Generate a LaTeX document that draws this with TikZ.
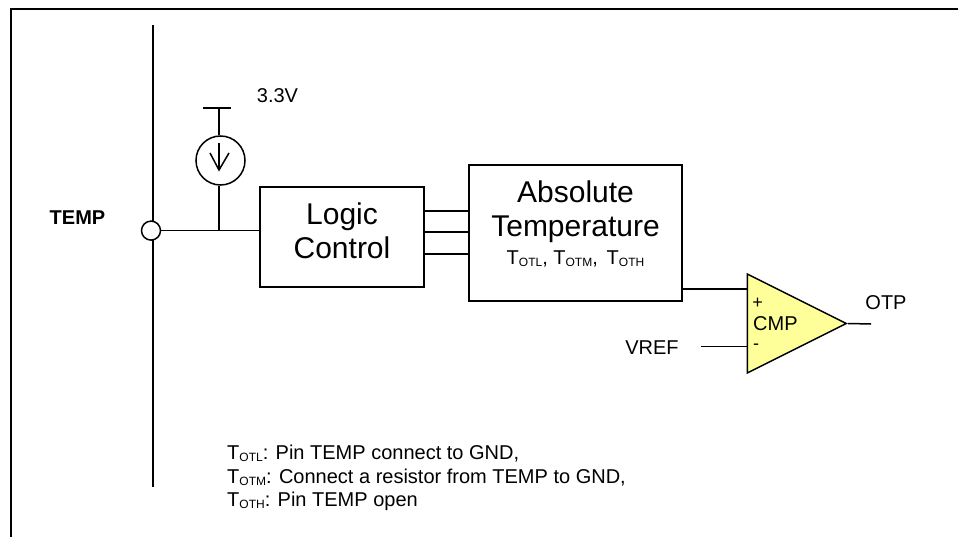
\documentclass[tikz,border=0pt]{standalone}
\usepackage{fontspec}
\setmainfont{Liberation Sans}
\usetikzlibrary{shapes.geometric}
\definecolor{cmpyellow}{HTML}{FFFF99}
\newcommand{\Tsub}[1]{T{\fontsize{12}{12}\selectfont\raisebox{-2pt}{#1}}}
\tikzset{
  wire/.style={line width=1.5pt},
  blockbox/.style={draw, line width=1.5pt, inner sep=0pt},
  bigtxt/.style={font=\fontsize{30}{34}\selectfont, align=center, inner sep=0pt},
  lbl/.style={font=\fontsize{20}{23.5}\selectfont, inner sep=0pt}
}
\begin{document}
\begin{tikzpicture}[x=1pt, y=-1pt]
\useasboundingbox (0,0) rectangle (958,537);
\coordinate (framebl) at (11,537);
\coordinate (frametl) at (11,9);
\coordinate (frametr) at (958,9);
\draw[wire] (framebl) -- (frametl) -- (frametr);
% bus and pin
\coordinate (bustop) at (153,25);
\coordinate (busbot) at (153,487);
\draw[wire] (bustop) -- (busbot);
\node[draw, circle, line width=1.5pt, fill=white, minimum size=19pt, inner sep=0pt] (pin) at (151,230.6) {};
\node[lbl, font=\fontsize{20}{23}\selectfont\bfseries] (temp) at (77.5,218) {TEMP};
% blocks
\node[blockbox, minimum width=164pt, minimum height=100pt] (logic) at (342,237) {};
\node[bigtxt] (logictxt) at (342,230.5) {Logic\\Control};
\node[blockbox, minimum width=213pt, minimum height=136pt] (abs) at (575.5,233) {};
\node[bigtxt] (abstxt) at (575.5,223.5) {Absolute\\Temperature\\[-6pt]{\fontsize{20}{20}\selectfont \Tsub{OTL}, \Tsub{OTM}, \,\Tsub{OTH}}};
\draw[wire] (pin) -- (logic.west |- pin);
\foreach \ypos in {211,232,254}
  \draw[wire] (logic.east |- 0,\ypos) -- (abs.west |- 0,\ypos);
% current source
\node[draw, circle, line width=1.5pt, minimum size=49pt, inner sep=0pt] (isrc) at (220.5,160.5) {};
\coordinate (vddtop) at (219,108);
\coordinate (vddl) at (203,108);
\coordinate (vddr) at (231,108);
\coordinate (isrcjoin) at (219,230.6);
\draw[wire] (vddl) -- (vddr);
\draw[wire] (vddtop) -- (vddtop |- isrc.north);
\draw[wire] (isrcjoin |- isrc.south) -- (isrcjoin);
\draw[wire] (219,143) -- (219,170);
\draw[wire] (210,153) -- (219,170) -- (229,153);
\node[lbl] (vdd) at (277.5,96) {3.3V};
% comparator
\node[draw, line width=1.5pt, fill=cmpyellow, isosceles triangle, isosceles triangle stretches, minimum width=99pt, minimum height=99pt, inner sep=0pt, anchor=lower side] (cmp) at (746.5,323.5) {};
\node[lbl, anchor=west] (cmplbl) at (753,324) {CMP};
\node[lbl, font=\fontsize{18}{20}\selectfont] (plus) at (757.5,303) {+};
\node[lbl, font=\fontsize{18}{20}\selectfont] (minus) at (756,347) {-};
\coordinate (cmpp) at (747,289);
\coordinate (cmpm) at (747,346.7);
\coordinate (vrefend) at (701,346.7);
\coordinate (otpend) at (871,324);
\draw[wire] (abs.east |- cmpp) -- (cmpp);
\draw[wire] (vrefend) -- (cmpm);
\draw[wire] (cmp.apex) -- (otpend);
\node[lbl] (vref) at (652,348) {VREF};
\node[lbl] (otp) at (886,303) {OTP};
% note
\node[lbl, anchor=north west, align=left] (note) at (227,445)
  {\Tsub{OTL}: Pin TEMP connect to GND,\\ \Tsub{OTM}: Connect a resistor from TEMP to GND,\\ \Tsub{OTH}: Pin TEMP open};
\end{tikzpicture}
\end{document}
